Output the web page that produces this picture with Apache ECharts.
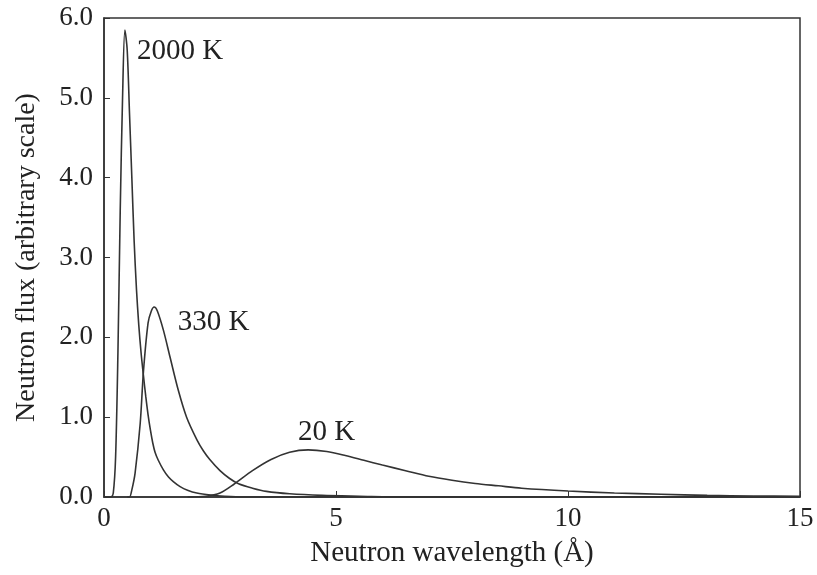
<!DOCTYPE html>
<html>
<head>
<meta charset="utf-8">
<script src="https://cdn.jsdelivr.net/npm/echarts@6/dist/echarts.min.js"></script>
<style>
  html, body { margin: 0; padding: 0; background: #fff; }
  #chart { width: 817px; height: 575px; }
</style>
</head>
<body>
<div id="chart"></div>
<script>
  // curves: [wavelength (Å), flux]
  var flux2000K = [
    [0, 0], [0.15, 0], [0.2, 0.05], [0.25, 0.5], [0.3, 1.8], [0.35, 3.6], [0.4, 5.0],
    [0.45, 5.85], [0.5, 5.6], [0.55, 4.8], [0.6, 4.0], [0.65, 3.2], [0.7, 2.6],
    [0.75, 2.15], [0.8, 1.8], [0.85, 1.52], [0.9, 1.26], [0.95, 1.03], [1.0, 0.84],
    [1.05, 0.68], [1.1, 0.56], [1.17, 0.46], [1.28, 0.34], [1.39, 0.25], [1.5, 0.19],
    [1.64, 0.13], [1.8, 0.085], [2.0, 0.05], [2.3, 0.025], [2.6, 0.01], [3.0, 0], [15, 0]
  ];
  var flux330K = [
    [0.5, 0], [0.55, 0], [0.6, 0.09], [0.67, 0.3], [0.78, 0.92], [0.85, 1.57],
    [0.95, 2.18], [1.02, 2.33], [1.08, 2.38], [1.15, 2.33], [1.28, 2.09], [1.42, 1.76],
    [1.6, 1.34], [1.78, 1.0], [2.0, 0.72], [2.14, 0.58], [2.28, 0.47], [2.5, 0.33],
    [2.7, 0.235], [2.9, 0.165], [3.2, 0.11], [3.5, 0.07], [4.0, 0.04], [4.7, 0.02],
    [5.5, 0.01], [6.5, 0], [15, 0]
  ];
  var flux20K = [
    [1.8, 0], [2.2, 0.01], [2.5, 0.05], [2.8, 0.16], [3.2, 0.33], [3.6, 0.47],
    [4.0, 0.56], [4.4, 0.59], [4.8, 0.57], [5.2, 0.52], [5.6, 0.46], [6.0, 0.4],
    [6.5, 0.33], [7.0, 0.26], [7.5, 0.21], [8.0, 0.17], [8.5, 0.14], [9.0, 0.11],
    [10, 0.075], [11, 0.05], [12, 0.035], [13, 0.02], [14, 0.013], [15, 0.008]
  ];
  var curveNames = ['2000 K', '330 K', '20 K'];
  var curveLabelAt = [[0.71, 5.58], [1.59, 2.19], [4.18, 0.81]];

  var font = 'Liberation Serif';
  var ink = '#333';

  var chart = echarts.init(document.getElementById('chart'));

  function curve(name, data, labelAt) {
    return {
      name: name,
      type: 'line',
      data: data,
      smooth: 0.3,
      showSymbol: false,
      lineStyle: { color: ink, width: 1.6 },
      markPoint: {
        symbol: 'circle',
        symbolSize: 0,
        data: [{ coord: labelAt, value: name }],
        label: {
          show: true,
          position: 'right',
          distance: 0,
          formatter: name,
          color: '#222',
          fontFamily: font,
          fontSize: 29
        }
      }
    };
  }

  chart.setOption({
    animation: false,
    grid: {
      left: 104, right: 17, top: 18, bottom: 78,
      outerBoundsMode: 'none',
      show: true, borderColor: ink, borderWidth: 1.5
    },
    xAxis: {
      type: 'value',
      min: 0, max: 15, interval: 5,
      name: 'Neutron wavelength (Å)',
      nameLocation: 'middle',
      nameGap: 42,
      nameTextStyle: { fontFamily: font, fontSize: 29, color: '#222' },
      splitLine: { show: false },
      axisLine: { lineStyle: { color: ink, width: 1.5 } },
      axisTick: { inside: true, length: 6, lineStyle: { color: ink } },
      axisLabel: { fontFamily: font, fontSize: 27, color: '#222', margin: 8 }
    },
    yAxis: {
      type: 'value',
      min: 0, max: 6, interval: 1,
      name: 'Neutron flux (arbitrary scale)',
      nameLocation: 'middle',
      nameGap: 63,
      nameTextStyle: { fontFamily: font, fontSize: 28, color: '#222' },
      splitLine: { show: false },
      axisLine: { lineStyle: { color: ink, width: 1.5 } },
      axisTick: { inside: true, length: 6, lineStyle: { color: ink } },
      axisLabel: {
        fontFamily: font, fontSize: 27, color: '#222', margin: 11,
        formatter: function (v) { return v.toFixed(1); }
      }
    },
    series: [
      curve(curveNames[0], flux2000K, curveLabelAt[0]),
      curve(curveNames[1], flux330K, curveLabelAt[1]),
      curve(curveNames[2], flux20K, curveLabelAt[2])
    ]
  });
</script>
</body>
</html>
